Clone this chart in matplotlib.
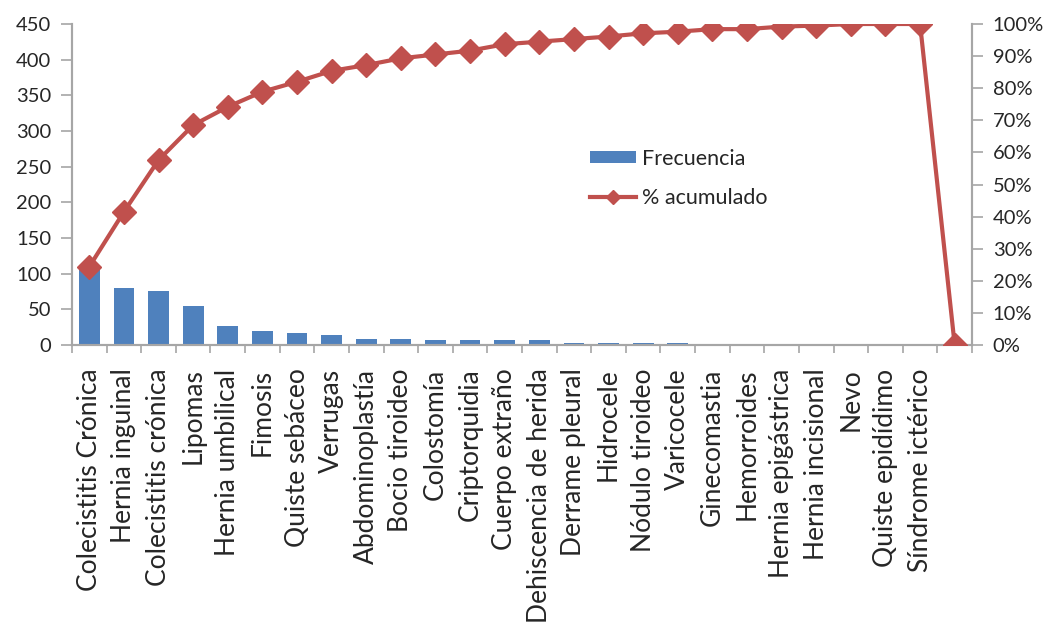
import matplotlib
matplotlib.use("Agg")
import matplotlib.pyplot as plt
from matplotlib.ticker import FixedLocator, PercentFormatter

categorias = ["Colecistitis Crónica", "Hernia inguinal", "Colecistitis crónica", "Lipomas",
              "Hernia umbilical", "Fimosis", "Quiste sebáceo", "Verrugas", "Abdominoplastía",
              "Bocio tiroideo", "Colostomía", "Criptorquidia", "Cuerpo extraño",
              "Dehiscencia de herida", "Derrame pleural", "Hidrocele", "Nódulo tiroideo",
              "Varicocele", "Ginecomastia", "Hemorroides", "Hernia epigástrica",
              "Hernia incisional", "Nevo", "Quiste epidídimo", "Síndrome ictérico", ""]
frecuencia = [112, 80, 76, 55, 27, 20, 17, 14, 9, 9, 7, 7, 7, 7, 3, 3, 3, 3,
              1, 1, 1, 1, 1, 1, 1]
acumulado = [24.4, 41.5, 57.6, 68.5, 74.2, 78.9, 82.0, 85.4, 87.2, 89.3, 90.5, 91.7,
             93.7, 94.5, 95.3, 96.1, 97.1, 97.6, 98.4, 98.4, 99.2, 99.5, 100, 100, 100, 0]

plt.rcParams['font.family'] = ['Lato', 'DejaVu Sans']
gris = '#a6a6a6'
texto = '#262626'

fig = plt.figure(figsize=(10.48, 6.30), dpi=100)
ax1 = fig.add_axes([72 / 1048, 1 - 345 / 630, 900 / 1048, 321 / 630])
ax2 = ax1.twinx()

x_bar = range(len(frecuencia))
x_lin = range(len(acumulado))
barras = ax1.bar(x_bar, frecuencia, width=0.6, color='#4f81bd', label='Frecuencia', zorder=2)
linea, = ax2.plot(x_lin, [v / 100 for v in acumulado], color='#c0504d', lw=3,
                  marker='D', ms=12, label='% acumulado', zorder=3)

ax1.set_xlim(-0.5, len(categorias) - 0.5)
ax1.set_ylim(0, 450)
ax1.set_yticks(range(0, 451, 50))
ax2.set_ylim(0, 1)
ax2.set_yticks([i / 10 for i in range(11)])
ax2.yaxis.set_major_formatter(PercentFormatter(1.0, decimals=0))

ax1.set_xticks(range(len(categorias)))
ax1.set_xticklabels(categorias, rotation=90, fontsize=19, color=texto)
ax1.xaxis.set_minor_locator(FixedLocator([i - 0.5 for i in range(len(categorias) + 1)]))
ax1.tick_params(axis='x', which='major', length=0, pad=17)
ax1.tick_params(axis='x', which='minor', length=6, color=gris, width=1.2)

ax1.tick_params(axis='y', length=8, color=gris, width=1.2, labelsize=14.5, labelcolor=texto, pad=7)
ax2.tick_params(axis='y', length=8, color=gris, width=1.2, labelsize=14.5, labelcolor=texto, pad=7)

for ax in (ax1, ax2):
    ax.spines['top'].set_visible(False)
    for s in ('left', 'right', 'bottom'):
        ax.spines[s].set_color(gris)
        ax.spines[s].set_linewidth(1.5)

fig.legend(handles=[barras, linea], loc='upper left', bbox_to_anchor=(590 / 1048, 1 - 149 / 630),
           frameon=False, fontsize=15.5, handlelength=2.15, handleheight=0.5, handletextpad=0.25,
           labelspacing=0.9, borderpad=0, borderaxespad=0, labelcolor=texto, markerscale=0.6)

fig.savefig("out.png", dpi=100)
